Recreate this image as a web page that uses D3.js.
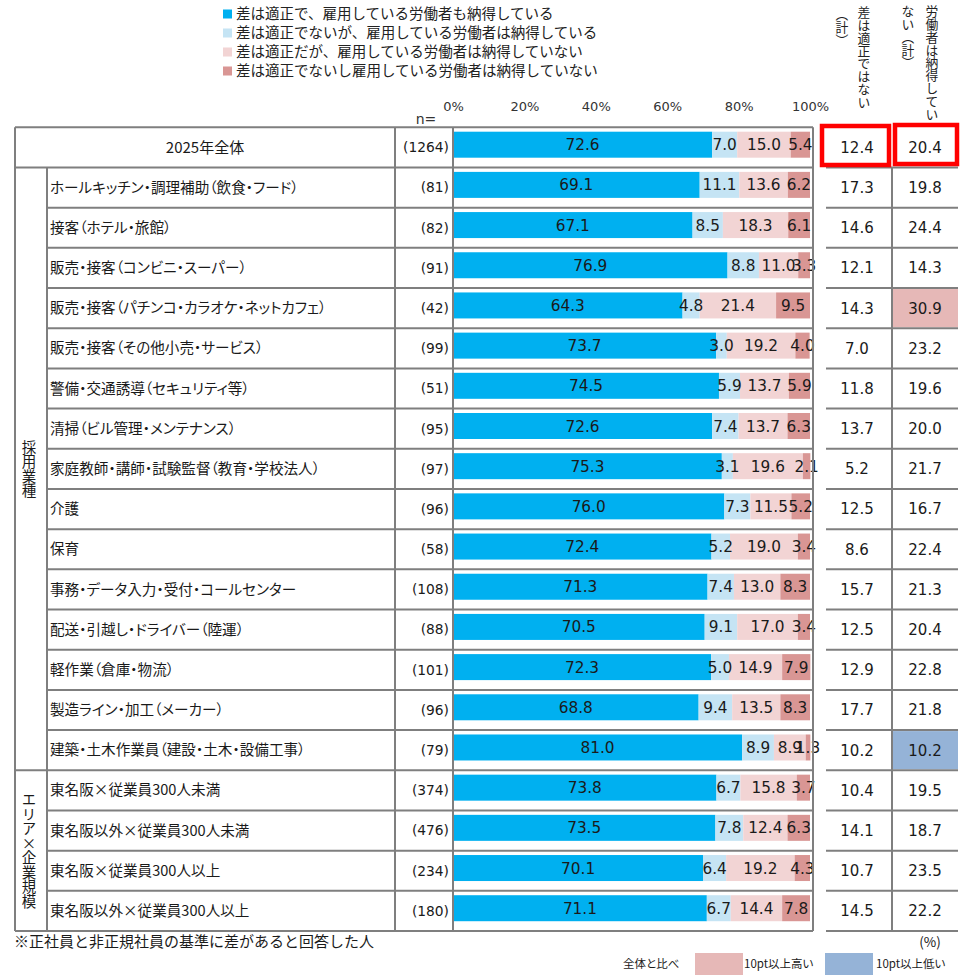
<!DOCTYPE html>
<html><head><meta charset="utf-8">
<script src="https://cdn.jsdelivr.net/npm/d3@7"></script>
<style>
body{margin:0;background:#fff;}
svg{display:block;}
.jp{font-family:"Noto Sans CJK JP",sans-serif;}
.num{font-family:"DejaVu Sans","Noto Sans CJK JP",sans-serif;}
</style></head>
<body>
<svg id="chart" width="961" height="976"></svg>
<script>
// ---- data ----
const seriesNames = [
  "差は適正で、雇用している労働者も納得している",
  "差は適正でないが、雇用している労働者は納得している",
  "差は適正だが、雇用している労働者は納得していない",
  "差は適正でないし雇用している労働者は納得していない"
];
const categories = [
  "2025年全体",
  "ホールキッチン・調理補助（飲食・フード）",
  "接客（ホテル・旅館）",
  "販売・接客（コンビニ・スーパー）",
  "販売・接客（パチンコ・カラオケ・ネットカフェ）",
  "販売・接客（その他小売・サービス）",
  "警備・交通誘導（セキュリティ等）",
  "清掃（ビル管理・メンテナンス）",
  "家庭教師・講師・試験監督（教育・学校法人）",
  "介護",
  "保育",
  "事務・データ入力・受付・コールセンター",
  "配送・引越し・ドライバー（陸運）",
  "軽作業（倉庫・物流）",
  "製造ライン・加工（メーカー）",
  "建築・土木作業員（建設・土木・設備工事）",
  "東名阪×従業員300人未満",
  "東名阪以外×従業員300人未満",
  "東名阪×従業員300人以上",
  "東名阪以外×従業員300人以上"
];
const nValues = [1264,81,82,91,42,99,51,95,97,96,58,108,88,101,96,79,374,476,234,180];
const s1 = [72.6,69.1,67.1,76.9,64.3,73.7,74.5,72.6,75.3,76.0,72.4,71.3,70.5,72.3,68.8,81.0,73.8,73.5,70.1,71.1];
const s2 = [7.0,11.1,8.5,8.8,4.8,3.0,5.9,7.4,3.1,7.3,5.2,7.4,9.1,5.0,9.4,8.9,6.7,7.8,6.4,6.7];
const s3 = [15.0,13.6,18.3,11.0,21.4,19.2,13.7,13.7,19.6,11.5,19.0,13.0,17.0,14.9,13.5,8.9,15.8,12.4,19.2,14.4];
const s4 = [5.4,6.2,6.1,3.3,9.5,4.0,5.9,6.3,2.1,5.2,3.4,8.3,3.4,7.9,8.3,1.3,3.7,6.3,4.3,7.8];
const notProper = [12.4,17.3,14.6,12.1,14.3,7.0,11.8,13.7,5.2,12.5,8.6,15.7,12.5,12.9,17.7,10.2,10.4,14.1,10.7,14.5];
const notAccepted = [20.4,19.8,24.4,14.3,30.9,23.2,19.6,20.0,21.7,16.7,22.4,21.3,20.4,22.8,21.8,10.2,19.5,18.7,23.5,22.2];
const groups = [
  {name:"採用業種", from:1, to:15},
  {name:"エリア×企業規模", from:16, to:19}
];
const ticks = [0,20,40,60,80,100];
const colors = ["#00b0f0","#c5e4f4","#f2d4d4","#d99694"];
const hiColor = "#e6b8b7", loColor = "#95b3d7";

// ---- layout ----
const svg = d3.select("#chart");
const x = d3.scaleLinear().domain([0,100]).range([453,810]);
const y = d3.scaleBand().domain(d3.range(categories.length)).range([127.3,931]).padding(0);
const gray = "#7f7f7f";
const X0 = 15, XG = 47, XN = 395, XB = 453, XR = 813;
const RX0 = 826, RXM = 892, RX1 = 958;
const barTop = 4.4, barH = 26;

// legend
const lg = svg.append("g");
seriesNames.forEach((s,i)=>{
  const cy = 14 + i*19;
  lg.append("rect").attr("x",223).attr("y",cy-4.5).attr("width",9).attr("height",9).attr("fill",colors[i]);
  lg.append("text").attr("class","jp").attr("x",236).attr("y",cy).attr("dy","0.35em")
    .attr("font-size",14.5).attr("fill","#222").text(s);
});

// axis
const axis = d3.axisTop(x).tickValues(ticks).tickSize(0).tickPadding(0).tickFormat(d=>d+"%");
const ag = svg.append("g").attr("transform","translate(0,111)").call(axis);
ag.select(".domain").remove();
ag.selectAll("text").attr("class","num").attr("font-size",13).attr("fill","#333").attr("font-family",null);
svg.append("text").attr("class","num").attr("x",426).attr("y",119).attr("dy","0.35em").attr("text-anchor","middle")
  .attr("font-size",14).attr("fill","#333").text("n=");

// vertical text helper
function vtext(xp, yp, t, size){
  return svg.append("text").attr("class","jp").attr("x",xp).attr("y",yp)
    .style("writing-mode","vertical-rl").attr("font-size",size).attr("fill","#222").text(t);
}
vtext(864, 6, "差は適正ではない", 12.8);
vtext(842, 8, "（計）", 12.8);
vtext(932, 5, "労働者は納得してい", 12.8);
vtext(908, 5, "ない（計）", 12.8);

// bars
const stackData = categories.map((c,i)=>({i, v:[s1[i],s2[i],s3[i],s4[i]]}));
const rows = svg.append("g").selectAll("g").data(stackData).join("g");
rows.each(function(d){
  const g = d3.select(this);
  let acc = 0;
  d.v.forEach((v,k)=>{
    const x0 = x(acc), x1 = x(acc+v);
    g.append("rect").attr("x",x0).attr("y",y(d.i)+barTop).attr("width",Math.max(0,x1-x0)).attr("height",barH).attr("fill",colors[k]);
    acc += v;
  });
  acc = 0;
  d.v.forEach((v,k)=>{
    const cx = x(acc + v/2);
    g.append("text").attr("class","num").attr("x",cx).attr("y",y(d.i)+barTop+barH/2).attr("dy","0.36em")
      .attr("text-anchor","middle").attr("font-size",15.3).attr("fill","#1a1a1a").text(v.toFixed(1));
    acc += v;
  });
});

// highlight cells in right table
categories.forEach((c,i)=>{
  if(i===0) return;
  const diffs = [[notProper[i]-notProper[0], RX0-4, RXM], [notAccepted[i]-notAccepted[0], RXM+1, RX1]];
  diffs.forEach(([df,a,b])=>{
    if(df>=10) svg.append("rect").attr("x",a).attr("y",y(i)+1).attr("width",b-a).attr("height",y.bandwidth()-2).attr("fill",hiColor);
    else if(df<=-10) svg.append("rect").attr("x",a).attr("y",y(i)+1).attr("width",b-a).attr("height",y.bandwidth()-2).attr("fill",loColor);
  });
});

// left table lines
const lines = svg.append("g").attr("stroke",gray).attr("stroke-width",2).attr("fill","none");
const yTop = y(0), yBot = y(categories.length-1)+y.bandwidth();
lines.append("line").attr("x1",X0).attr("x2",XR).attr("y1",yTop).attr("y2",yTop);
lines.append("line").attr("x1",X0).attr("x2",XR).attr("y1",yBot).attr("y2",yBot);
lines.append("line").attr("x1",X0).attr("x2",XR).attr("y1",y(1)).attr("y2",y(1));
groups.forEach(gr=>{
  for(let i=gr.from+1;i<=gr.to;i++){
    lines.append("line").attr("x1",XG).attr("x2",XR).attr("y1",y(i)).attr("y2",y(i));
  }
  if(gr.to < categories.length-1){
    lines.append("line").attr("x1",X0).attr("x2",XR).attr("y1",y(gr.to)+y.bandwidth()).attr("y2",y(gr.to)+y.bandwidth());
  }
});
[X0, XN, XB, XR].forEach(xx=>lines.append("line").attr("x1",xx).attr("x2",xx).attr("y1",yTop).attr("y2",yBot));
lines.append("line").attr("x1",XG).attr("x2",XG).attr("y1",y(1)).attr("y2",yBot);

// right table lines
const rl = svg.append("g").attr("stroke",gray).attr("stroke-width",2).attr("fill","none");
for(let i=1;i<=categories.length;i++){
  const yy = i<categories.length ? y(i) : yBot;
  rl.append("line").attr("x1",RX0).attr("x2",RX1).attr("y1",yy).attr("y2",yy);
}
rl.append("line").attr("x1",RXM).attr("x2",RXM).attr("y1",y(1)).attr("y2",yBot);

// red boxes for overall
svg.append("rect").attr("x",822).attr("y",126).attr("width",67).attr("height",39).attr("fill","none").attr("stroke","#ff0000").attr("stroke-width",4.5);
svg.append("rect").attr("x",895).attr("y",125).attr("width",62).attr("height",39).attr("fill","none").attr("stroke","#ff0000").attr("stroke-width",4.5);

// left labels
categories.forEach((c,i)=>{
  const cy = y(i)+y.bandwidth()/2;
  if(i===0){
    svg.append("text").attr("class","jp").attr("x",(X0+XN)/2).attr("y",cy).attr("dy","0.35em")
      .attr("text-anchor","middle").attr("font-size",15).attr("fill","#1a1a1a").text(c);
  } else {
    svg.append("text").attr("class","jp").attr("x",50).attr("y",cy).attr("dy","0.35em")
      .style("font-feature-settings","'palt'").attr("font-size",14.6).attr("fill","#1a1a1a").text(c);
  }
  svg.append("text").attr("class","num").attr("x",449).attr("y",cy).attr("dy","0.35em")
    .attr("text-anchor","end").attr("font-size",13.8).attr("fill","#1a1a1a").text("("+nValues[i]+")");
  svg.append("text").attr("class","num").attr("x",(RX0+RXM)/2-2).attr("y",cy).attr("dy","0.36em")
    .attr("text-anchor","middle").attr("font-size",15).attr("fill","#1a1a1a").text(notProper[i].toFixed(1));
  svg.append("text").attr("class","num").attr("x",(RXM+RX1)/2).attr("y",cy).attr("dy","0.36em")
    .attr("text-anchor","middle").attr("font-size",15).attr("fill","#1a1a1a").text(notAccepted[i].toFixed(1));
});

// group labels (vertical)
groups.forEach(gr=>{
  const cy = (y(gr.from) + y(gr.to)+y.bandwidth())/2;
  const fs = 14.5;
  const len = Array.from(gr.name).length*fs;
  vtext(29, cy - len/2, gr.name, fs).attr("fill","#1a1a1a");
});

// footnote and bottom legend
svg.append("text").attr("class","jp").attr("x",14).attr("y",942).attr("dy","0.35em")
  .attr("font-size",15).attr("fill","#1a1a1a").text("※正社員と非正規社員の基準に差があると回答した人");
svg.append("text").attr("class","jp").attr("x",930).attr("y",942).attr("dy","0.35em").attr("text-anchor","middle")
  .attr("font-size",13.5).attr("fill","#1a1a1a").text("(%)");
svg.append("text").attr("class","jp").attr("x",623).attr("y",964).attr("dy","0.35em")
  .style("font-feature-settings","'palt'").attr("font-size",11.5).attr("fill","#1a1a1a").text("全体と比べ");
svg.append("rect").attr("x",695).attr("y",953).attr("width",48).attr("height",22).attr("fill",hiColor);
svg.append("text").attr("class","jp").attr("x",744).attr("y",964).attr("dy","0.35em")
  .style("font-feature-settings","'palt'").attr("font-size",11.5).attr("fill","#1a1a1a").text("10pt以上高い");
svg.append("rect").attr("x",825).attr("y",953).attr("width",48).attr("height",22).attr("fill",loColor);
svg.append("text").attr("class","jp").attr("x",876).attr("y",964).attr("dy","0.35em")
  .style("font-feature-settings","'palt'").attr("font-size",11.5).attr("fill","#1a1a1a").text("10pt以上低い");
</script>
</body></html>
